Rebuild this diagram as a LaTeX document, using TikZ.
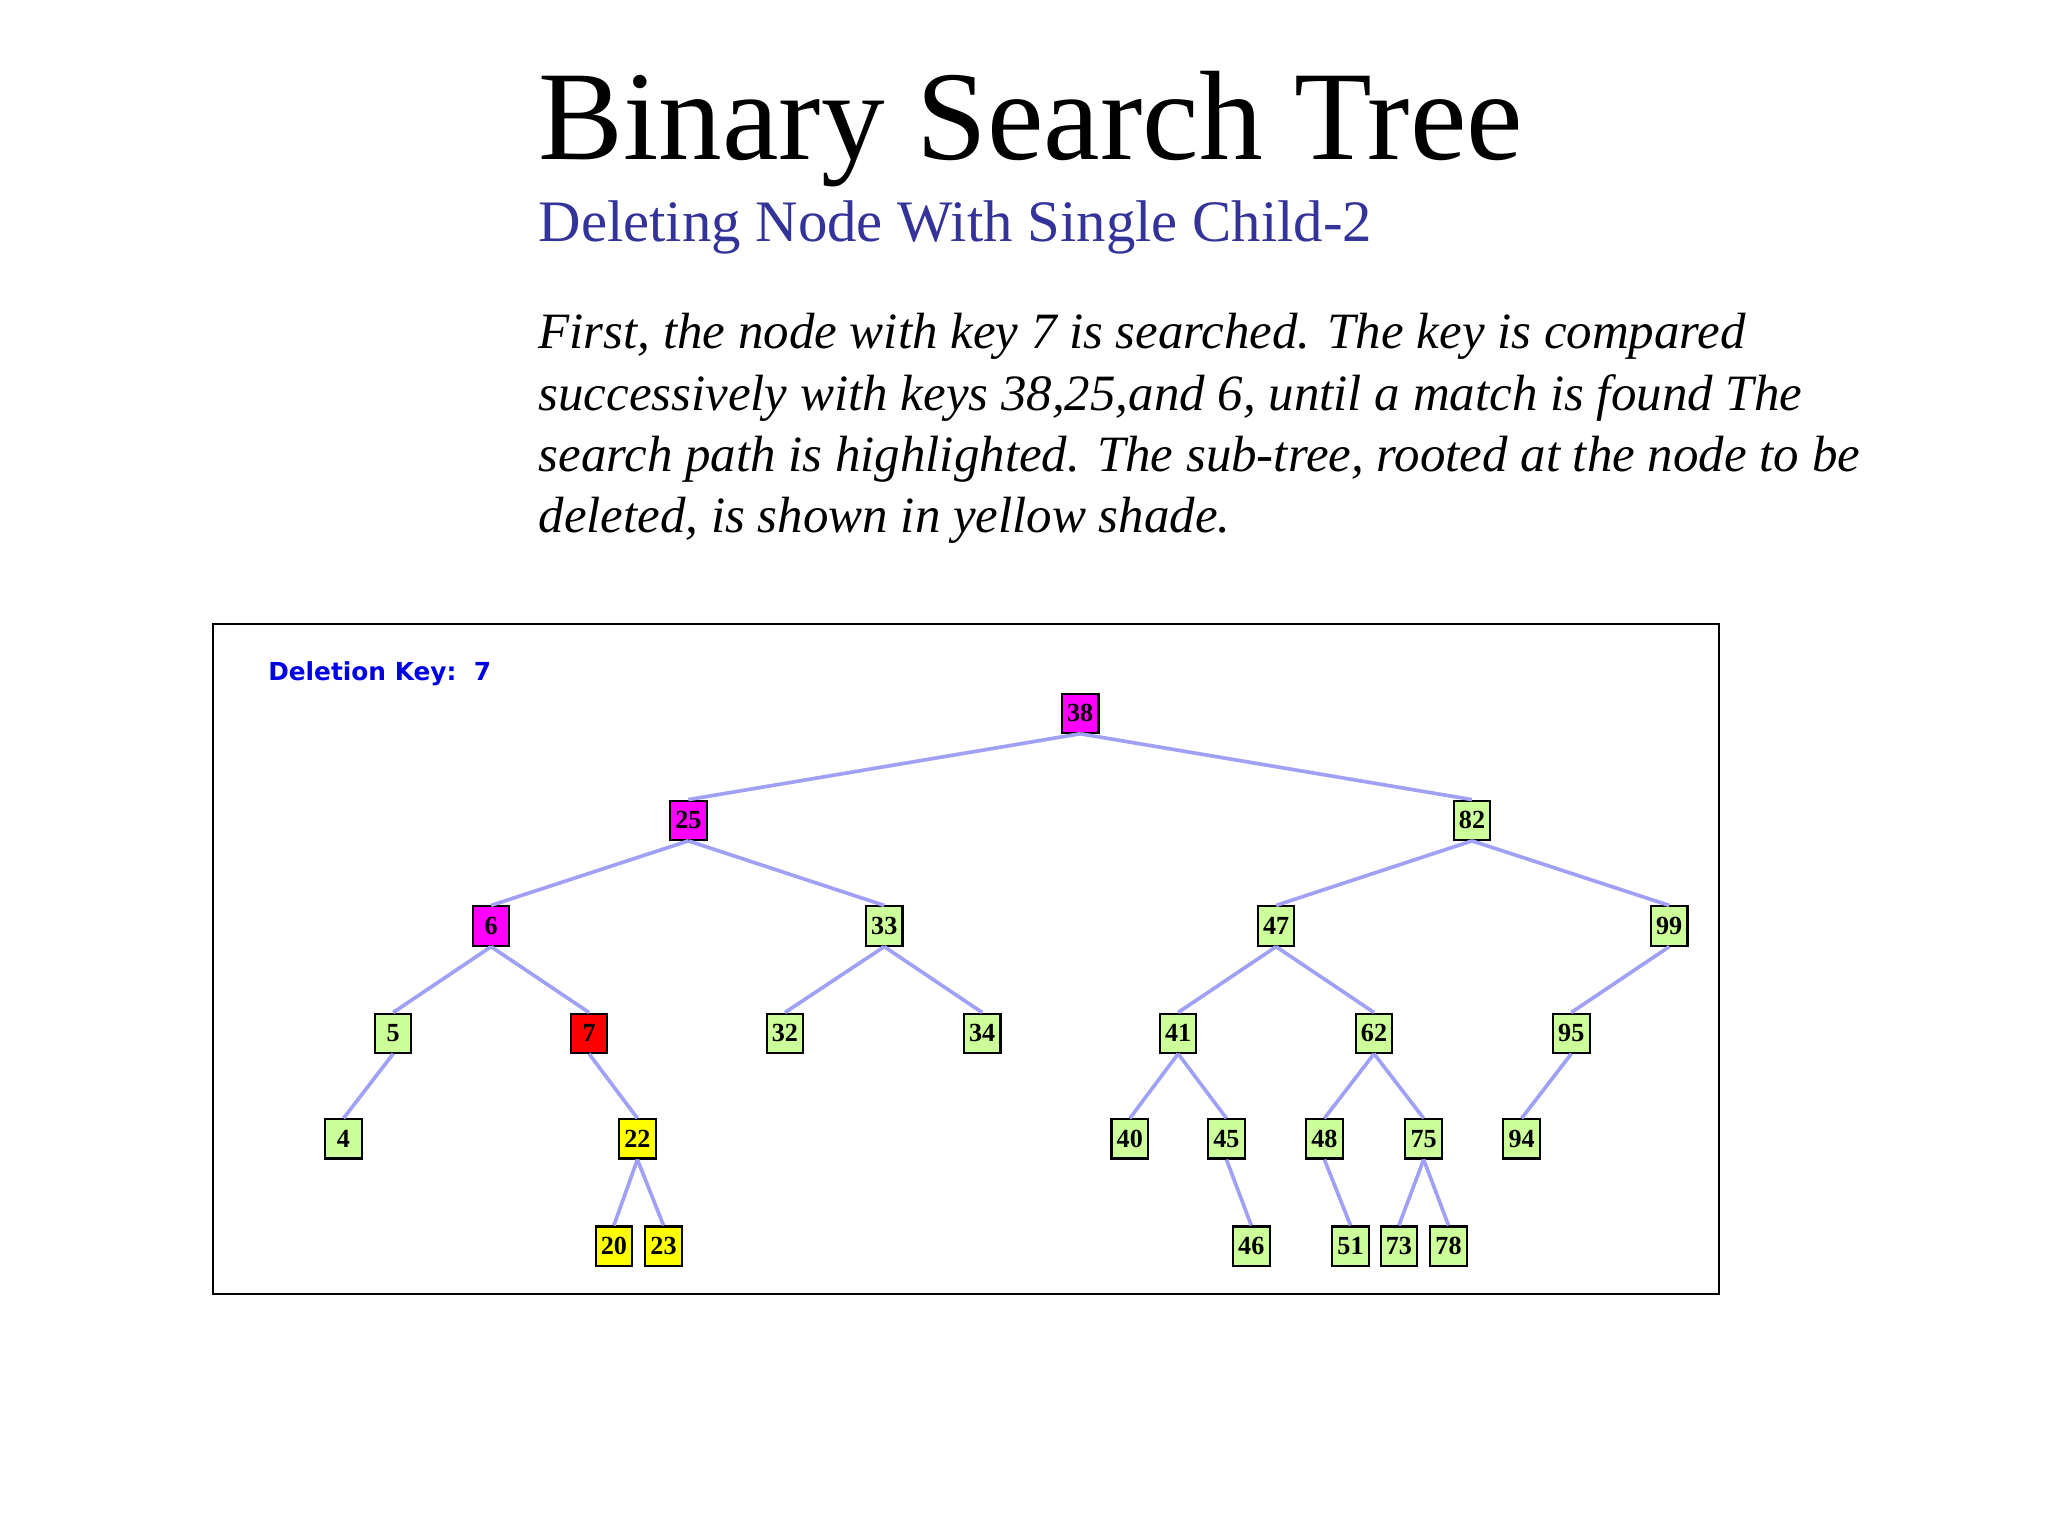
\documentclass[tikz,border=0pt]{standalone}
\usepackage{fontspec}
\setmainfont{Liberation Serif}
\newfontfamily\keyfont{DejaVu Sans}
\definecolor{lg}{RGB}{204,255,153}
\definecolor{mg}{RGB}{255,0,255}
\definecolor{rd}{RGB}{255,0,0}
\definecolor{yw}{RGB}{255,255,0}
\begin{document}
\begin{tikzpicture}[x=0.5pt,y=-0.5pt,
  tn/.style={draw=black,line width=0.8pt,minimum width=14pt,minimum height=15pt,inner sep=0pt,font=\fontsize{10}{10}\selectfont\bfseries},
  g/.style={tn,fill=lg},
  m/.style={tn,fill=mg},
  r/.style={tn,fill=rd},
  yl/.style={tn,fill=yw},
  ed/.style={draw={rgb,255:red,160;green,160;blue,245},line width=1.4pt}]
\useasboundingbox (0,0) rectangle (1568,1176);
\node[anchor=base west,inner sep=0pt,font=\fontsize{48.7}{50}\selectfont] (title) at (412,122) {Binary Search Tree};
\node[anchor=base west,inner sep=0pt,font=\fontsize{22.5}{23}\selectfont,text={rgb,255:red,51;green,51;blue,153}] (sub) at (412,185) {Deleting Node With Single Child-2};
\node[anchor=base west,inner sep=0pt,align=left,font=\fontsize{19.5}{23.5}\selectfont\itshape] (body) at (412,408) {First, the node with key 7 is searched. The key is compared\\successively with keys 38,25,and 6, until a match is found The\\search path is highlighted. The sub-tree, rooted at the node to be\\deleted, is shown in yellow shade.};
\draw[line width=0.7pt] (163,478) rectangle (1316,991);
\node[anchor=base west,inner sep=0pt,text={rgb,255:red,0;green,0;blue,230},font=\keyfont\bfseries\fontsize{9.5}{10}\selectfont] (dk) at (205,521) {Deletion Key:\ \ 7};
\node[m] (n38) at (827,546) {38};
\node[m] (n25) at (527,628) {25};
\node[g] (n82) at (1127,628) {82};
\node[m] (n6) at (376,709) {6};
\node[g] (n33) at (677,709) {33};
\node[g] (n47) at (977,709) {47};
\node[g] (n99) at (1278,709) {99};
\node[g] (n5) at (301,791) {5};
\node[r] (n7) at (451,791) {7};
\node[g] (n32) at (601,791) {32};
\node[g] (n34) at (752,791) {34};
\node[g] (n41) at (902,791) {41};
\node[g] (n62) at (1052,791) {62};
\node[g] (n95) at (1203,791) {95};
\node[g] (n4) at (263,872) {4};
\node[yl] (n22) at (488,872) {22};
\node[g] (n40) at (865,872) {40};
\node[g] (n45) at (939,872) {45};
\node[g] (n48) at (1014,872) {48};
\node[g] (n75) at (1090,872) {75};
\node[g] (n94) at (1165,872) {94};
\node[yl] (n20) at (470,954) {20};
\node[yl] (n23) at (508,954) {23};
\node[g] (n46) at (958,954) {46};
\node[g] (n51) at (1034,954) {51};
\node[g] (n73) at (1071,954) {73};
\node[g] (n78) at (1109,954) {78};
\foreach \p/\c in {38/25,38/82,25/6,25/33,82/47,82/99,6/5,6/7,33/32,33/34,47/41,47/62,99/95,5/4,7/22,41/40,41/45,62/48,62/75,95/94,22/20,22/23,45/46,48/51,75/73,75/78}
  \draw[ed] (n\p.south) -- (n\c.north);
\end{tikzpicture}
\end{document}
